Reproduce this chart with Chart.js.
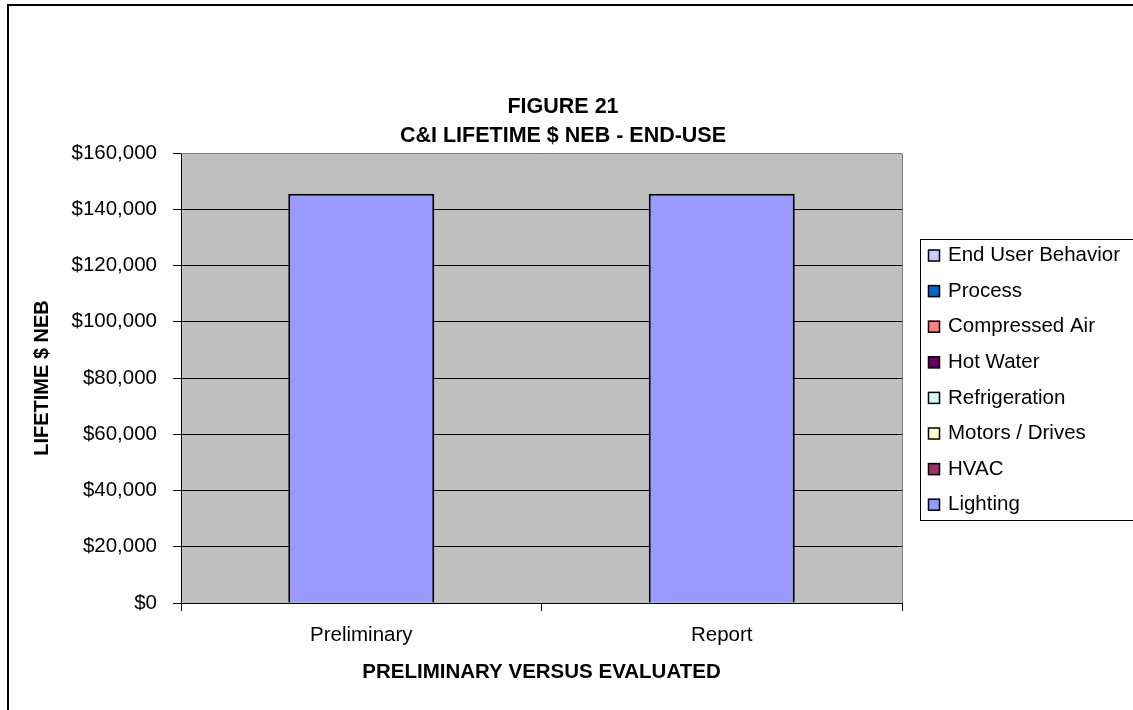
<!DOCTYPE html>
<html>
<head>
<meta charset="utf-8">
<script src="https://cdn.jsdelivr.net/npm/chart.js@4.4.0/dist/chart.umd.min.js"></script>
<style>
    html, body { margin: 0; padding: 0; background: #fff; }
    #wrap { width: 1133px; height: 710px; }
</style>
</head>
<body>
<div id="wrap"><canvas id="neb-chart" width="1133" height="710"></canvas></div>
<script>
// Chart data
const categories = ['Preliminary', 'Report'];
const lighting = [145500, 145500];
const hvac = [0, 0];
const motorsDrives = [0, 0];
const refrigeration = [0, 0];
const hotWater = [0, 0];
const compressedAir = [0, 0];
const processUse = [0, 0];
const endUserBehavior = [0, 0];
const yTicks = [0, 20000, 40000, 60000, 80000, 100000, 120000, 140000, 160000];

const titleLines = ['FIGURE 21', 'C&I LIFETIME $ NEB - END-USE'];

// stacked bottom to top
const seriesList = [
    { label: 'Lighting', data: lighting, color: '#9999FF' },
    { label: 'HVAC', data: hvac, color: '#993366' },
    { label: 'Motors / Drives', data: motorsDrives, color: '#FFFFCC' },
    { label: 'Refrigeration', data: refrigeration, color: '#CCFFFF' },
    { label: 'Hot Water', data: hotWater, color: '#660066' },
    { label: 'Compressed Air', data: compressedAir, color: '#FF8080' },
    { label: 'Process', data: processUse, color: '#0066CC' },
    { label: 'End User Behavior', data: endUserBehavior, color: '#CCCCFF' }
];

const FONT = "'Liberation Sans', Arial, sans-serif";
const TEXT_SIZE = 20.5;

document.addEventListener('DOMContentLoaded', function() {
    initializeNebChart();
});

// background, borders, title and legend
const framePlugin = {
    id: 'frame',
    beforeDraw(chart) {
        const ctx = chart.ctx;
        const a = chart.chartArea;
        ctx.save();
        ctx.fillStyle = '#fff';
        ctx.fillRect(0, 0, chart.width, chart.height);
        // outer border
        ctx.strokeStyle = '#000';
        ctx.lineWidth = 2;
        ctx.strokeRect(8, 5, chart.width + 20, chart.height + 20);
        // plot area
        ctx.fillStyle = '#C0C0C0';
        ctx.fillRect(a.left, a.top, a.right - a.left, a.bottom - a.top);
        ctx.restore();
    },
    afterDraw(chart) {
        const ctx = chart.ctx;
        const a = chart.chartArea;
        ctx.save();
        ctx.strokeStyle = '#808080';
        ctx.lineWidth = 1;
        ctx.beginPath();
        ctx.moveTo(a.left, a.top + 0.5);
        ctx.lineTo(a.right + 0.5, a.top + 0.5);
        ctx.lineTo(a.right + 0.5, a.bottom);
        ctx.stroke();

        // title
        ctx.fillStyle = '#000';
        ctx.font = 'bold 21.5px ' + FONT;
        ctx.textAlign = 'center';
        ctx.textBaseline = 'middle';
        ctx.fillText(titleLines[0], 563, 107);
        ctx.fillText(titleLines[1], 563, 136);

        // legend, reversed order like the stack
        const boxTop = 239, boxLeft = 920;
        ctx.strokeStyle = '#000';
        ctx.lineWidth = 1;
        ctx.strokeRect(boxLeft + 0.5, boxTop + 0.5, 300, 281);
        ctx.font = TEXT_SIZE + 'px ' + FONT;
        ctx.textAlign = 'left';
        const ds = chart.data.datasets.slice().reverse();
        ds.forEach(function(d, i) {
            const y = 255.5 + i * 35.6;
            ctx.fillStyle = d.backgroundColor;
            ctx.fillRect(928, y - 6, 12, 12);
            ctx.strokeStyle = '#000';
            ctx.lineWidth = 1.5;
            ctx.strokeRect(928.5, y - 5.5, 11, 11);
            ctx.fillStyle = '#000';
            ctx.fillText(d.label, 948, y);
        });
        ctx.restore();
    }
};

function initializeNebChart() {
    const ctx = document.getElementById('neb-chart').getContext('2d');

    window.nebChart = new Chart(ctx, {
        type: 'bar',
        data: {
            labels: categories,
            datasets: seriesList.map(function(s) {
                return {
                    label: s.label,
                    data: s.data,
                    backgroundColor: s.color,
                    borderColor: '#000',
                    borderWidth: 2,
                    barPercentage: 0.405,
                    categoryPercentage: 1
                };
            })
        },
        options: {
            responsive: false,
            animation: false,
            layout: { padding: { left: 0, top: 153, right: 231, bottom: 0 } },
            plugins: {
                legend: { display: false },
                title: { display: false },
                tooltip: { enabled: false }
            },
            scales: {
                x: {
                    stacked: true,
                    grid: {
                        drawOnChartArea: false,
                        drawTicks: true,
                        tickLength: 8,
                        tickColor: '#000',
                        offset: true
                    },
                    border: { color: '#000', width: 1 },
                    ticks: {
                        color: '#000',
                        font: { family: FONT, size: TEXT_SIZE },
                        padding: 12
                    },
                    title: {
                        display: true,
                        text: 'PRELIMINARY VERSUS EVALUATED',
                        color: '#000',
                        font: { family: FONT, size: 20.5, weight: 'bold' },
                        padding: { top: 0, bottom: 25 }
                    },
                    afterFit: function(scale) { scale.height = 107; }
                },
                y: {
                    stacked: true,
                    min: 0,
                    max: 160000,
                    afterBuildTicks: function(scale) {
                        scale.ticks = yTicks.map(function(v) { return { value: v }; });
                    },
                    grid: {
                        color: '#000',
                        lineWidth: 1,
                        tickLength: 8,
                        tickColor: '#000'
                    },
                    border: { color: '#000', width: 1 },
                    ticks: {
                        color: '#000',
                        font: { family: FONT, size: TEXT_SIZE },
                        padding: 16,
                        callback: function(value) {
                            return '$' + value.toLocaleString('en-US');
                        }
                    },
                    title: {
                        display: true,
                        text: 'LIFETIME $ NEB',
                        color: '#000',
                        font: { family: FONT, size: 20, weight: 'bold' },
                        padding: { top: 30, bottom: 0 }
                    },
                    afterFit: function(scale) { scale.width = 181; }
                }
            }
        },
        plugins: [framePlugin]
    });
}
</script>
</body>
</html>
